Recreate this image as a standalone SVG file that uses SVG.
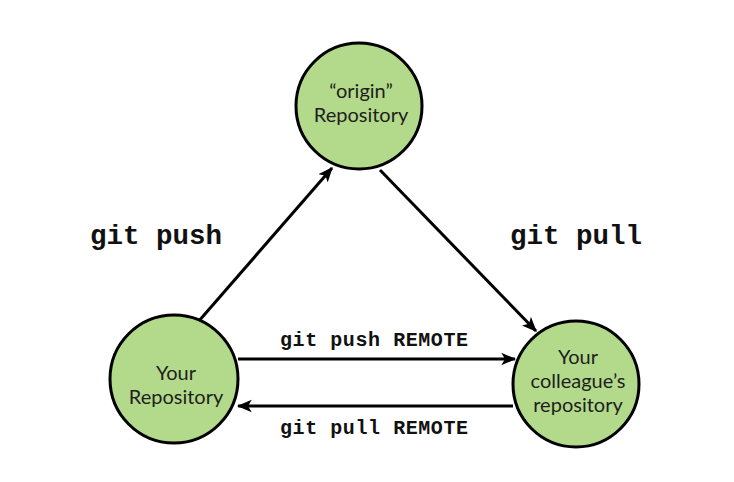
<svg xmlns="http://www.w3.org/2000/svg" width="734" height="482" viewBox="0 0 734 482">
<style>
.node{fill:#b3da8b;stroke:#000;stroke-width:3}
.nt{font-family:Lato,"Open Sans",sans-serif;font-size:20px;fill:#1e1e1e;text-anchor:middle}
.cmd{font-family:"Liberation Mono","Courier New",monospace;font-weight:bold;fill:#111}
.big{font-size:27.5px}
.small{font-size:20px}
.edge{stroke:#000;stroke-width:3;fill:none;marker-end:url(#ah)}
</style>
<defs>
<marker id="ah" viewBox="0 0 12 10" refX="11" refY="5" markerWidth="5" markerHeight="4.5" orient="auto" markerUnits="strokeWidth">
<path d="M0,0 L12,5 L0,10 L3,5 Z" fill="#000"/>
</marker>
</defs>
<rect width="734" height="482" fill="#fff"/>
<g id="connectors">
<line class="edge" x1="198" y1="322" x2="332" y2="168"/>
<line class="edge" x1="380" y1="170" x2="536" y2="331"/>
<line class="edge" x1="238" y1="359" x2="515" y2="359"/>
<line class="edge" x1="513" y1="406" x2="238" y2="406"/>
</g>
<g id="origin">
<circle class="node" cx="359" cy="106" r="63"/>
<text class="nt" x="361" y="98">“origin”</text>
<text class="nt" x="361" y="122">Repository</text>
</g>
<g id="your-repo">
<circle class="node" cx="174" cy="379" r="64"/>
<text class="nt" x="176" y="380">Your</text>
<text class="nt" x="176" y="404">Repository</text>
</g>
<g id="colleague-repo">
<circle class="node" cx="576" cy="384" r="63"/>
<text class="nt" x="578" y="364">Your</text>
<text class="nt" x="578" y="388">colleague’s</text>
<text class="nt" x="578" y="412">repository</text>
</g>
<g id="labels">
<text class="cmd big" x="90" y="244" textLength="132">git push</text>
<text class="cmd big" x="510" y="244" textLength="132">git pull</text>
<text class="cmd small" x="280" y="346" textLength="188">git push REMOTE</text>
<text class="cmd small" x="280" y="434" textLength="188">git pull REMOTE</text>
</g>
</svg>
